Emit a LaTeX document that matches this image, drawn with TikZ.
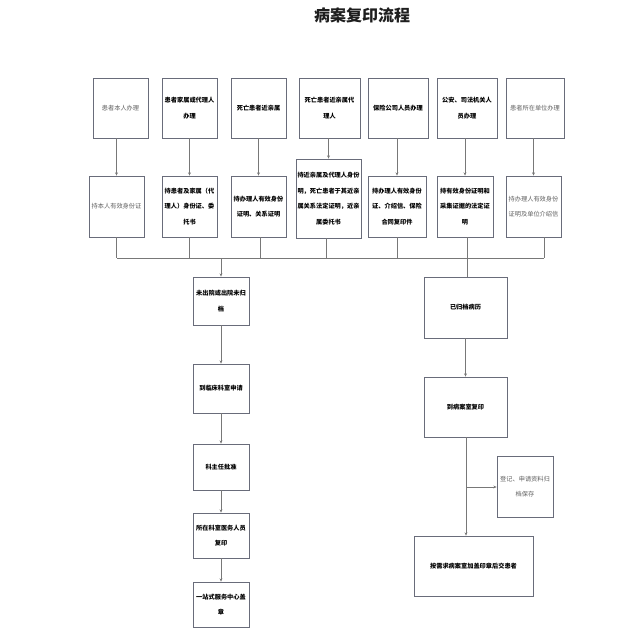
\documentclass[tikz,border=0pt]{standalone}
\usepackage{fontspec}
\setmainfont{Noto Sans CJK SC}
\newfontfamily\cjk{Noto Sans CJK SC}
\usetikzlibrary{arrows.meta}
\definecolor{boxline}{RGB}{105,108,122}
\definecolor{conn}{RGB}{120,120,120}
\definecolor{greytxt}{RGB}{95,95,95}
\tikzset{
  bx/.style={draw=boxline, line width=0.9pt, fill=white, align=center, inner sep=1pt,
     font=\cjk\bfseries\fontsize{6.2}{15.5}\selectfont, text=black},
  gbx/.style={bx, font=\cjk\fontsize{6.2}{15.5}\selectfont, text=greytxt},
  ln/.style={draw=conn, line width=0.8pt},
  arr/.style={ln, -{Stealth[length=3.2pt,width=3pt]}},
}
\newcommand{\bxat}[7]{\node[#1, minimum width=#4pt, minimum height=#5pt] (#2) at (#3,#6) {#7};}
\begin{document}
\begin{tikzpicture}[x=1pt,y=-1pt]
\useasboundingbox[fill=white] (0,0) rectangle (622,639);
\node[font=\cjk\bfseries\fontsize{16}{18}\selectfont, text={rgb,255:red,30;green,30;blue,30}] (title) at (362,15) {病案复印流程};
% row 1
\bxat{gbx}{a1}{120.5}{55}{60}{108}{患者本人办理}
\bxat{bx}{a2}{189.5}{55}{60}{108}{患者家属或代理人\\办理}
\bxat{bx}{a3}{258.5}{55}{60}{108}{死亡患者近亲属}
\bxat{bx}{a4}{329.5}{61}{60}{108}{死亡患者近亲属代\\理人}
\bxat{bx}{a5}{398}{60}{60}{108}{保险公司人员办理}
\bxat{bx}{a6}{467}{60}{60}{108}{公安、司法机关人\\员办理}
\bxat{gbx}{a7}{535}{58}{60}{108}{患者所在单位办理}
% row 2
\bxat{gbx}{b1}{116.5}{55}{61}{206.5}{持本人有效身份证}
\bxat{bx}{b2}{189.5}{55}{61}{206.5}{持患者及家属（代\\理人）身份证、委\\托书}
\bxat{bx}{b3}{258.5}{55}{61}{206.5}{持办理人有效身份\\证明、关系证明}
\bxat{bx}{b4}{328.5}{65}{79}{198.5}{持近亲属及代理人身份\\明，死亡患者于其近亲\\属关系法定证明，近亲\\属委托书}
\bxat{bx}{b5}{397}{58}{61}{206.5}{持办理人有效身份\\证、介绍信、保险\\合同复印件}
\bxat{bx}{b6}{465}{56}{61}{206.5}{持有效身份证明和\\采集证据的法定证\\明}
\bxat{gbx}{b7}{533.5}{55}{61}{206.5}{持办理人有效身份\\证明及单位介绍信}
% left column
\bxat{bx}{c1}{221}{56}{48}{301}{未出院或出院未归\\档}
\bxat{bx}{c2}{221}{56}{49}{388.5}{到临床科室申请}
\bxat{bx}{c3}{221}{56}{46}{467}{科主任批准}
\bxat{bx}{c4}{221}{56}{45}{535.5}{所在科室医务人员\\复印}
\bxat{bx}{c5}{221}{56}{45}{604.5}{一站式服务中心盖\\章}
% right column
\bxat{bx}{d1}{465.5}{83}{61}{307.5}{已归档病历}
\bxat{bx}{d2}{465.5}{83}{60}{407}{到病案室复印}
\bxat{gbx}{d3}{525}{56}{61}{486.5}{登记、申请资料归\\档保存}
\bxat{bx}{d4}{473.5}{119}{60}{566}{按需求病案室加盖印章后交患者}
% row1 -> row2
\foreach \i in {1,...,7}{
  \draw[arr] (b\i.north |- a\i.south) -- (b\i.north);
}
% bus
\coordinate (busL) at (117,258);
\coordinate (busR) at (544,258);
\draw[ln] (busL) -- (busR);
\draw[ln] (b1.south) -- (b1.south |- busL);
\draw[ln] (b2.south) -- (b2.south |- busL);
\draw[ln] ([xshift=2pt]b3.south) -- ([xshift=2pt]b3.south |- busL);
\draw[ln] ([xshift=-2pt]b4.south) -- ([xshift=-2pt]b4.south |- busL);
\draw[ln] (b5.south) -- (b5.south |- busL);
\draw[ln] ([xshift=2pt]b6.south) -- ([xshift=2pt]b6.south |- busL);
\draw[ln] (busR |- b7.south) -- (busR);
% left column
\draw[arr] (c1.north |- busL) -- (c1.north);
\draw[arr] (c1) -- (c2);
\draw[arr] (c2) -- (c3);
\draw[arr] (c3) -- (c4);
\draw[arr] (c4) -- (c5);
% right column
\coordinate (rx) at (467,258);
\draw[ln] (rx) -- (rx |- d1.north);
\draw[arr] (d1.south) -- (d2.north);
\coordinate (br) at (466,487);
\draw[arr] (d2.south -| br) -- (br |- d4.north);
\draw[arr] (br) -- (d3.west |- br);
\end{tikzpicture}
\end{document}
